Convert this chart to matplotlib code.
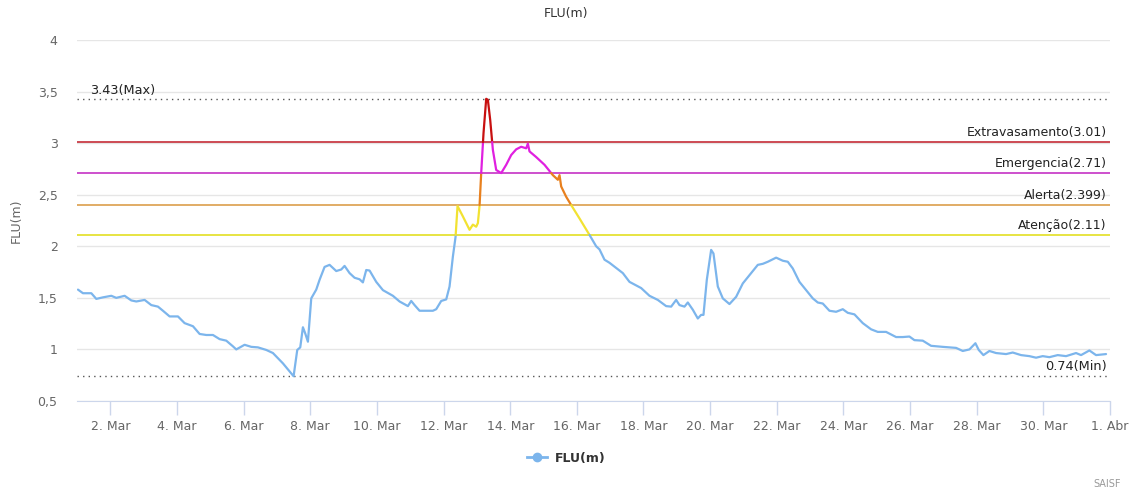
#!/usr/bin/env python3
# -*- coding: utf-8 -*-
"""FLU(m) - nivel do rio, março, com cotas de referência."""

import numpy as np
import matplotlib
matplotlib.use('Agg')
import matplotlib.pyplot as plt
from matplotlib.lines import Line2D

plt.rcParams['font.family'] = ['DejaVu Sans']

# dias contados a partir de 1. Mar 00:00 (1.0 = 1. Mar, 32.0 = 1. Abr)
dias = [
    1.03, 1.18, 1.43, 1.58, 1.78, 2.03, 2.18, 2.43, 2.63, 2.78, 3.03, 3.23, 3.43,
    3.58, 3.78, 4.03, 4.23, 4.48, 4.68, 4.88, 5.08, 5.28, 5.48, 5.68, 5.78, 6.03,
    6.23, 6.43, 6.68, 6.88, 7.18, 7.50, 7.61, 7.70, 7.78, 7.85, 7.93, 8.03, 8.18,
    8.28, 8.43, 8.58, 8.78, 8.93, 9.03, 9.18, 9.33, 9.48, 9.58, 9.68, 9.78, 9.98,
    10.18, 10.48, 10.68, 10.93, 11.03, 11.13, 11.28, 11.68, 11.78, 11.93, 12.08,
    12.18, 12.28, 12.36, 12.42, 12.58, 12.78, 12.88, 12.98, 13.03, 13.08, 13.13,
    13.20, 13.28, 13.33, 13.40, 13.48, 13.58, 13.73, 13.88, 14.03, 14.18, 14.33,
    14.48, 14.53, 14.58, 14.78, 15.03, 15.28, 15.43, 15.48, 15.53, 15.68, 15.83,
    16.08, 16.38, 16.58, 16.68, 16.83, 16.98, 17.18, 17.38, 17.58, 17.93, 18.18,
    18.43, 18.68, 18.83, 18.98, 19.08, 19.23, 19.33, 19.48, 19.63, 19.73, 19.80,
    19.90, 20.03, 20.10, 20.23, 20.38, 20.58, 20.78, 20.98, 21.23, 21.43, 21.58,
    21.73, 21.98, 22.18, 22.33, 22.48, 22.68, 22.88, 23.08, 23.23, 23.38, 23.58,
    23.78, 23.98, 24.13, 24.33, 24.58, 24.83, 25.03, 25.28, 25.58, 25.78, 25.98,
    26.13, 26.38, 26.63, 26.98, 27.38, 27.58, 27.78, 27.96, 28.06, 28.20, 28.38,
    28.58, 28.88, 29.08, 29.33, 29.58, 29.78, 29.98, 30.18, 30.43, 30.68, 30.98,
    31.13, 31.38, 31.58, 31.88,
]
nivel = [
    1.58, 1.545, 1.545, 1.49, 1.505, 1.52, 1.50, 1.52, 1.475, 1.465, 1.48, 1.43, 1.415,
    1.375, 1.32, 1.32, 1.255, 1.225, 1.15, 1.14, 1.14, 1.10, 1.085, 1.03, 1.00, 1.045,
    1.025, 1.02, 0.995, 0.965, 0.865, 0.74, 0.995, 1.02, 1.215, 1.155, 1.075, 1.495, 1.58,
    1.675, 1.80, 1.82, 1.76, 1.775, 1.81, 1.74, 1.695, 1.68, 1.65, 1.77, 1.765, 1.655,
    1.575, 1.52, 1.465, 1.42, 1.47, 1.43, 1.375, 1.375, 1.39, 1.47,
    1.485, 1.61, 1.90, 2.09, 2.39, 2.29, 2.16, 2.21, 2.19, 2.225, 2.39, 2.71,
    3.10, 3.43, 3.42, 3.225, 2.935, 2.74, 2.71, 2.79, 2.885, 2.94, 2.965,
    2.95, 2.995, 2.92, 2.865, 2.79, 2.69, 2.645, 2.69, 2.58, 2.48, 2.40,
    2.27, 2.11, 2.00, 1.97, 1.87, 1.84, 1.79, 1.74, 1.655, 1.595, 1.52,
    1.48, 1.42, 1.415, 1.48, 1.43, 1.415, 1.455, 1.385, 1.30, 1.335, 1.335,
    1.675, 1.965, 1.93, 1.61, 1.495, 1.44, 1.51, 1.64, 1.74, 1.82, 1.83,
    1.85, 1.89, 1.86, 1.85, 1.785, 1.655, 1.575, 1.495, 1.455, 1.445, 1.375,
    1.365, 1.39, 1.355, 1.34, 1.255, 1.195, 1.17, 1.17, 1.12, 1.12, 1.125,
    1.09, 1.085, 1.035, 1.025, 1.015, 0.985, 1.00, 1.06, 0.995, 0.945, 0.985,
    0.965, 0.955, 0.97, 0.945, 0.935, 0.92, 0.935, 0.925, 0.945, 0.935, 0.965,
    0.945, 0.99, 0.945, 0.955,
]

# cotas de referência
cotas_nome = ['Atenção', 'Alerta', 'Emergencia', 'Extravasamento']
cotas_valor = [2.11, 2.399, 2.71, 3.01]
cotas_rotulo = ['2.11', '2.399', '2.71', '3.01']
cotas_cor_linha = ['#e0dc10', '#d8963c', '#c020c0', '#c01a26']
zona_cor = ['#7cb5ec', '#f2e232', '#e8801e', '#e020e0', '#c81010']

nivel_max = 3.43
nivel_min = 0.74

x_ticks = list(range(2, 33, 2))
x_labels = ['2. Mar', '4. Mar', '6. Mar', '8. Mar', '10. Mar', '12. Mar', '14. Mar',
            '16. Mar', '18. Mar', '20. Mar', '22. Mar', '24. Mar', '26. Mar',
            '28. Mar', '30. Mar', '1. Abr']
y_ticks = [0.5, 1, 1.5, 2, 2.5, 3, 3.5, 4]
y_labels = ['0,5', '1', '1,5', '2', '2,5', '3', '3,5', '4']


def zona(v):
    return int(np.searchsorted(cotas_valor, v))


def partes_por_zona(x, y):
    """Divide a curva nos cruzamentos das cotas e agrupa por zona."""
    px, py = [x[0]], [y[0]]
    for i in range(1, len(x)):
        x0, y0, x1, y1 = x[i - 1], y[i - 1], x[i], y[i]
        cortes = [c for c in cotas_valor if min(y0, y1) < c < max(y0, y1)]
        cortes.sort(reverse=(y1 < y0))
        for c in cortes:
            t = (c - y0) / (y1 - y0)
            px.append(x0 + t * (x1 - x0))
            py.append(c)
        px.append(x1)
        py.append(y1)
    partes = []
    atual_x, atual_y, z_atual = [px[0]], [py[0]], None
    for i in range(1, len(px)):
        z = zona((py[i - 1] + py[i]) / 2)
        if z_atual is None:
            z_atual = z
        if z != z_atual:
            partes.append((z_atual, atual_x, atual_y))
            atual_x, atual_y = [px[i - 1]], [py[i - 1]]
            z_atual = z
        atual_x.append(px[i])
        atual_y.append(py[i])
    partes.append((z_atual, atual_x, atual_y))
    return partes


fig = plt.figure(figsize=(11.32, 4.91), dpi=100)
ax = fig.add_axes([0.068, 0.1833, 0.9126, 0.7352])

ax.set_xlim(1, 32)
ax.set_ylim(0.5, 4)

ax.set_yticks(y_ticks)
ax.set_yticklabels(y_labels)
ax.set_xticks(x_ticks)
ax.set_xticklabels(x_labels)
ax.grid(axis='y', color='#e6e6e6', linewidth=1)
ax.set_axisbelow(True)

for s in ['top', 'right', 'left']:
    ax.spines[s].set_visible(False)
ax.spines['bottom'].set_color('#ccd6eb')
ax.tick_params(axis='x', colors='#ccd6eb', length=10, width=1, labelcolor='#666666',
               labelsize=9, pad=4)
ax.tick_params(axis='y', length=0, labelcolor='#666666', labelsize=9, pad=14)

# cotas
for nome, v, rot, cor in zip(cotas_nome, cotas_valor, cotas_rotulo, cotas_cor_linha):
    ax.axhline(v, color=cor, linewidth=1.1, zorder=2)
    ax.text(31.9, v + 0.03, f'{nome}({rot})', ha='right', va='bottom',
            fontsize=9, color='#222222', zorder=4)

# max / min
ax.axhline(nivel_max, color='#555555', linewidth=1, linestyle=(0, (1, 3)), zorder=2)
ax.text(1.4, nivel_max + 0.02, f'{nivel_max:.2f}(Max)', ha='left', va='bottom',
        fontsize=9.3, color='#222222')
ax.axhline(nivel_min, color='#555555', linewidth=1, linestyle=(0, (1, 3)), zorder=2)
ax.text(31.9, nivel_min + 0.03, f'{nivel_min:.2f}(Min)', ha='right', va='bottom',
        fontsize=9.3, color='#222222')

# curva colorida por zona
for z, xs, ys in partes_por_zona(dias, nivel):
    ax.plot(xs, ys, color=zona_cor[z], linewidth=1.6, solid_joinstyle='round',
            solid_capstyle='round', zorder=3)

ax.set_ylabel('FLU(m)', fontsize=9, color='#666666', labelpad=11)
fig.text(0.5, 0.972, 'FLU(m)', ha='center', va='center', fontsize=9, color='#333333')

handle = Line2D([0], [0], color='#7cb5ec', linewidth=2, marker='o', markersize=6)
fig.legend([handle], ['FLU(m)'], loc='center', bbox_to_anchor=(0.5, 0.067), frameon=False,
           prop={'size': 9, 'weight': 'bold'}, labelcolor='#333333', handlelength=1.6,
           handletextpad=0.6)

fig.text(0.99, 0.015, 'SAISF', ha='right', va='center', fontsize=7, color='#999999')

fig.savefig('out.png', dpi=100)
